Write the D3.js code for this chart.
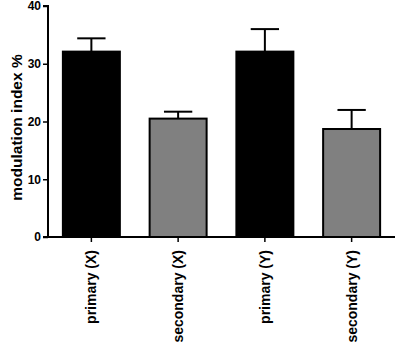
<!DOCTYPE html>
<html>
<head>
<meta charset="utf-8">
<script src="https://cdn.jsdelivr.net/npm/d3@7"></script>
<style>
  body { margin: 0; background: #fff; }
  svg { display: block; font-family: "Liberation Sans", Arial, sans-serif; }
</style>
</head>
<body>
<div id="chart"></div>
<script>
// bar chart with SEM error bars
const categories = ["primary (X)", "secondary (X)", "primary (Y)", "secondary (Y)"];
const means = [32.1, 20.5, 32.1, 18.7];
const errors = [2.3, 1.2, 3.9, 3.3];
const fills = ["#000000", "#808080", "#000000", "#808080"];
const yTicks = [0, 10, 20, 30, 40];

const W = 397, H = 350;
const margin = { top: 6, right: 2, bottom: 113, left: 48 };
const iw = W - margin.left - margin.right;
const ih = H - margin.top - margin.bottom;

const svg = d3.select("#chart").append("svg").attr("width", W).attr("height", H);
const g = svg.append("g").attr("transform", `translate(${margin.left},${margin.top})`);

const x = d3.scaleBand().domain(categories).range([0, iw]).paddingInner(0.32).paddingOuter(0.16);
const y = d3.scaleLinear().domain([0, 40]).range([ih, 0]);

const data = categories.map((c, i) => ({ c, m: means[i], e: errors[i], f: fills[i] }));

// error bars (upper only)
const capW = x.bandwidth() * 0.48;
const eb = g.selectAll(".eb").data(data).join("g").attr("class", "eb")
  .attr("stroke", "#000").attr("stroke-width", 2);
eb.append("line")
  .attr("x1", d => x(d.c) + x.bandwidth() / 2).attr("x2", d => x(d.c) + x.bandwidth() / 2)
  .attr("y1", d => y(d.m)).attr("y2", d => y(d.m + d.e));
eb.append("line")
  .attr("x1", d => x(d.c) + x.bandwidth() / 2 - capW / 2).attr("x2", d => x(d.c) + x.bandwidth() / 2 + capW / 2)
  .attr("y1", d => y(d.m + d.e)).attr("y2", d => y(d.m + d.e));

g.selectAll(".bar").data(data).join("rect").attr("class", "bar")
  .attr("x", d => x(d.c) + 1).attr("width", x.bandwidth() - 2)
  .attr("y", d => y(d.m)).attr("height", d => ih - y(d.m))
  .attr("fill", d => d.f).attr("stroke", "#000").attr("stroke-width", 2);

// axes
const gy = g.append("g").call(d3.axisLeft(y).tickValues(yTicks).tickSize(5).tickPadding(2));
const gx = g.append("g").attr("transform", `translate(0,${ih})`)
  .call(d3.axisBottom(x).tickSize(5).tickFormat(""));
[gx, gy].forEach(a => {
  a.select(".domain").attr("stroke-width", 2).attr("stroke", "#000");
  a.selectAll(".tick line").attr("stroke-width", 1.5).attr("stroke", "#000");
});
gy.select(".domain").attr("d", `M-5,${ih}H0V0H-5`);
gx.select(".domain").attr("d", `M0,0H${iw}`);
gy.selectAll(".tick text").attr("font-size", 12).attr("font-weight", "bold")
  .attr("font-family", "Liberation Sans, Arial, sans-serif").attr("fill", "#000");

// rotated category labels
gx.selectAll(".lbl").data(categories).join("text").attr("class", "lbl")
  .attr("transform", d => `translate(${x(d) + x.bandwidth() / 2},13) rotate(-90)`)
  .attr("text-anchor", "end").attr("dy", "0.35em")
  .attr("font-size", 14).attr("font-weight", "bold").attr("fill", "#000")
  .text(d => d);

// y title
svg.append("text")
  .attr("transform", `translate(17,${margin.top + ih / 2 + 6}) rotate(-90)`)
  .attr("text-anchor", "middle").attr("dy", "0.35em")
  .attr("font-size", 15.5).attr("font-weight", "bold").attr("fill", "#000")
  .text("modulation index %");
</script>
</body>
</html>
